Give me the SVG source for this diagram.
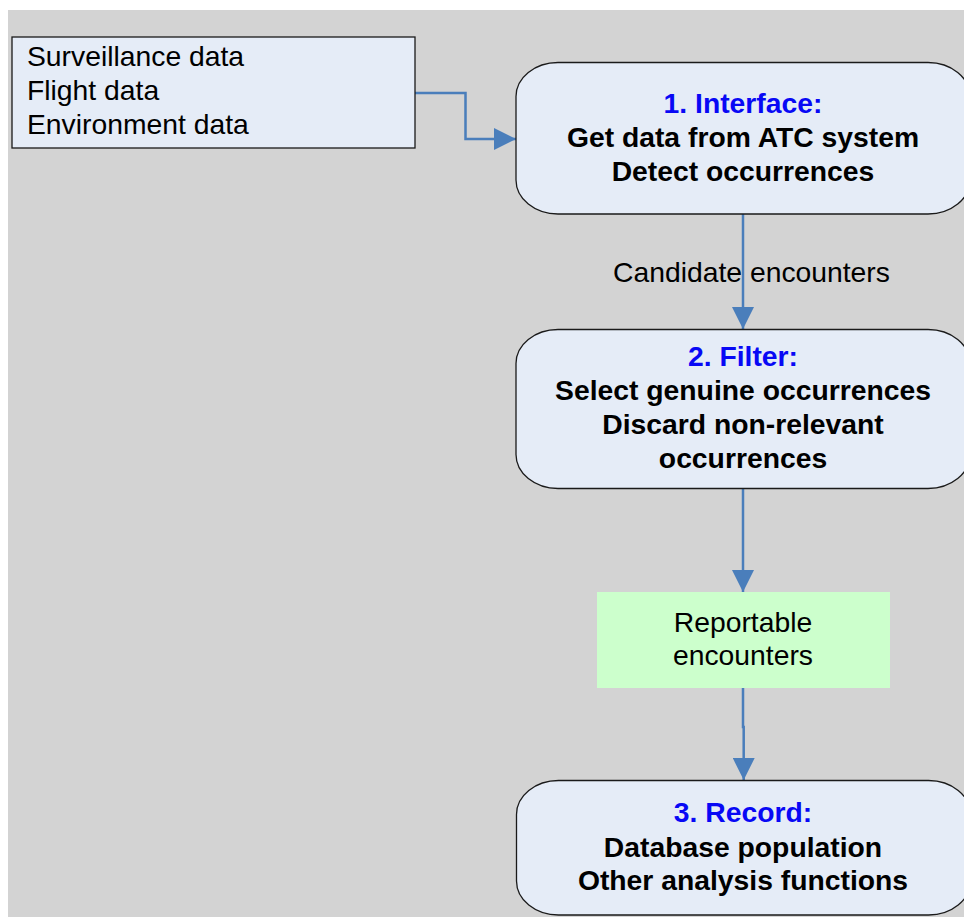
<svg xmlns="http://www.w3.org/2000/svg" width="964" height="917" viewBox="0 0 964 917">
  <defs>
    <marker id="arrow" markerUnits="userSpaceOnUse" markerWidth="22" markerHeight="22" viewBox="0 0 22 22" refX="22" refY="11" orient="auto">
      <path d="M0,0 L22,11 L0,22 z" fill="#4a7ebb"/>
    </marker>
    <style>
      .node { fill: #e5ecf7; stroke: #1a1a1a; stroke-width: 1.3; }
      .t { font-family: "Liberation Sans", Arial, sans-serif; font-size: 28.3px; fill: #000; }
      .b { font-weight: bold; text-anchor: middle; }
      .blue { fill: #0808f5; }
      .mid { text-anchor: middle; }
      .conn { fill: none; stroke: #4a7ebb; stroke-width: 2.5; }
    </style>
  </defs>
  <rect x="0" y="0" width="964" height="917" fill="#ffffff"/>
  <rect x="8" y="10" width="956" height="907" fill="#d3d3d3"/>

  <g id="connectors">
    <path class="conn" d="M415,93 H465.5 V139 H516" marker-end="url(#arrow)"/>
    <path class="conn" d="M743,214 V329" marker-end="url(#arrow)"/>
    <path class="conn" d="M743,489 V592" marker-end="url(#arrow)"/>
    <path class="conn" d="M743,688 V727 L743.7,727 V780" marker-end="url(#arrow)"/>
  </g>

  <g id="inputs">
    <rect x="12" y="37" width="403" height="111" class="node"/>
    <text class="t" x="27" y="66">Surveillance data</text>
    <text class="t" x="27" y="100">Flight data</text>
    <text class="t" x="27" y="134">Environment data</text>
  </g>

  <g id="interface">
    <rect x="516" y="62.5" width="454" height="151.5" rx="42" ry="34" class="node"/>
    <text class="t b blue" x="743" y="113">1. Interface:</text>
    <text class="t b" x="743" y="147">Get data from ATC system</text>
    <text class="t b" x="743" y="181">Detect occurrences</text>
  </g>

  <text id="label-candidate" class="t mid" x="751.5" y="282">Candidate encounters</text>

  <g id="filter">
    <rect x="516" y="329.5" width="454" height="159" rx="42" ry="34" class="node"/>
    <text class="t b blue" x="743" y="366">2. Filter:</text>
    <text class="t b" x="743" y="400">Select genuine occurrences</text>
    <text class="t b" x="743" y="434">Discard non-relevant</text>
    <text class="t b" x="743" y="468">occurrences</text>
  </g>

  <g id="reportable">
    <rect x="597" y="592" width="293" height="96" fill="#ccffcc"/>
    <text class="t mid" x="743" y="632">Reportable</text>
    <text class="t mid" x="743" y="665">encounters</text>
  </g>

  <g id="record">
    <rect x="516.5" y="780.5" width="454" height="134.5" rx="42" ry="34" class="node"/>
    <text class="t b blue" x="743" y="822">3. Record:</text>
    <text class="t b" x="743" y="857">Database population</text>
    <text class="t b" x="743" y="890">Other analysis functions</text>
  </g>
</svg>
